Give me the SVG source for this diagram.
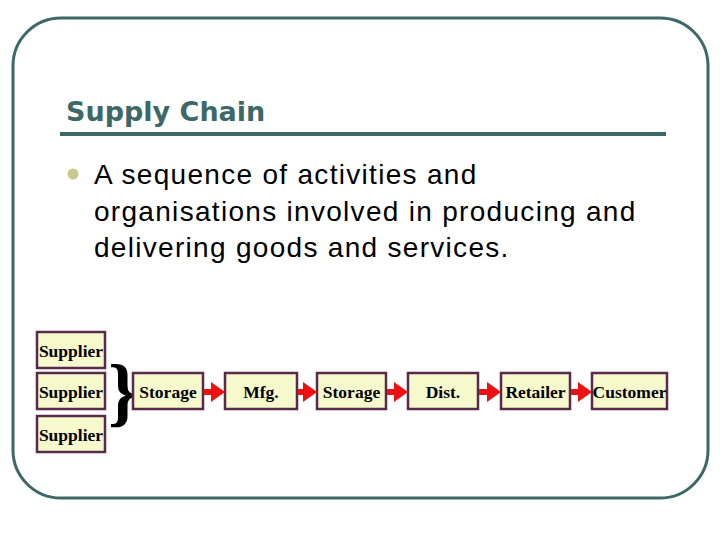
<svg xmlns="http://www.w3.org/2000/svg" width="720" height="540" viewBox="0 0 720 540">
<style>
.frame{fill:none;stroke:#3d6868;stroke-width:3}
.title{font-family:"DejaVu Sans",sans-serif;font-weight:bold;font-size:27px;fill:#3d6868}
.body{font-family:"Liberation Sans",Arial,sans-serif;font-size:28px;letter-spacing:1.3px;fill:#000}
.box{fill:#f6f9cb;stroke:#5a2a4c;stroke-width:2.5}
.lbl{font-family:"Liberation Serif","Times New Roman",serif;font-weight:bold;font-size:17.5px;fill:#000;text-anchor:middle}
.arr{stroke:#ee1111;stroke-width:6;fill:none}
</style>
<defs>
<marker id="ah" markerUnits="userSpaceOnUse" markerWidth="14" markerHeight="20" refX="0" refY="10" orient="auto">
<path d="M0,0 L14,10 L0,20 Z" fill="#ee1111"/>
</marker>
</defs>
<rect class="frame" x="13" y="18" width="695" height="480" rx="48" ry="48"/>
<text class="title" x="66" y="121">Supply Chain</text>
<line x1="60" y1="134" x2="666" y2="134" stroke="#3d6868" stroke-width="4"/>
<circle cx="73" cy="174" r="5.5" fill="#c9c98f"/>
<text class="body" x="94" y="184">A sequence of activities and</text>
<text class="body" x="94" y="221">organisations involved in producing and</text>
<text class="body" x="94" y="257">delivering goods and services.</text>
<g id="supplier1"><rect class="box" x="37" y="332" width="68" height="36"/><text class="lbl" x="71" y="357">Supplier</text></g>
<g id="supplier2"><rect class="box" x="37" y="373" width="68" height="36"/><text class="lbl" x="71" y="398">Supplier</text></g>
<g id="supplier3"><rect class="box" x="37" y="416" width="68" height="36"/><text class="lbl" x="71" y="441">Supplier</text></g>
<g id="brace"><text x="123" y="417" font-family="Liberation Serif, serif" font-weight="bold" font-size="76" text-anchor="middle" fill="#000">}</text></g>
<g id="storage1"><rect class="box" x="133" y="373" width="70" height="36"/><text class="lbl" x="168" y="398">Storage</text></g>
<g id="mfg"><rect class="box" x="225" y="373" width="72" height="36"/><text class="lbl" x="261" y="398">Mfg.</text></g>
<g id="storage2"><rect class="box" x="317" y="373" width="69" height="36"/><text class="lbl" x="351.5" y="398">Storage</text></g>
<g id="dist"><rect class="box" x="408" y="373" width="70" height="36"/><text class="lbl" x="443" y="398">Dist.</text></g>
<g id="retailer"><rect class="box" x="501" y="373" width="69" height="36"/><text class="lbl" x="535.5" y="398">Retailer</text></g>
<g id="customer"><rect class="box" x="592" y="373" width="75" height="36"/><text class="lbl" x="629.5" y="398">Customer</text></g>
<g id="connectors">
<line class="arr" x1="204" y1="392" x2="211" y2="392" marker-end="url(#ah)"/>
<line class="arr" x1="298" y1="392" x2="303" y2="392" marker-end="url(#ah)"/>
<line class="arr" x1="387" y1="392" x2="394" y2="392" marker-end="url(#ah)"/>
<line class="arr" x1="479" y1="392" x2="487" y2="392" marker-end="url(#ah)"/>
<line class="arr" x1="571" y1="392" x2="578" y2="392" marker-end="url(#ah)"/>
</g>
</svg>
